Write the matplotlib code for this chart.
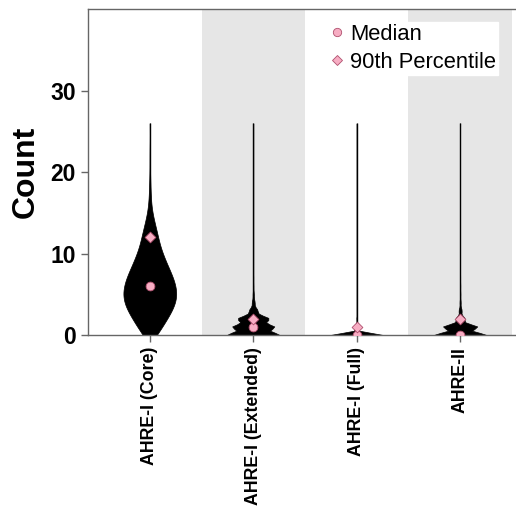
import matplotlib
matplotlib.use("Agg")
import matplotlib.pyplot as plt
from matplotlib.lines import Line2D
import numpy as np

plt.rcParams['font.family'] = ['Liberation Sans', 'DejaVu Sans']

# categories and count frequencies (value -> number of observations)
categories = ["AHRE-I (Core)", "AHRE-I (Extended)", "AHRE-I (Full)", "AHRE-II"]
count_values = list(range(27))
freq_core = [30, 50, 70, 90, 105, 110, 105, 95, 80, 65, 52, 40, 34, 26, 18,
             10, 6, 4, 3, 2, 1, 1, 1, 1, 0, 0, 1]
freq_extended = [380, 300, 225, 60, 20, 8, 3, 2, 1, 0, 0, 0, 0, 0, 0,
                 0, 0, 0, 0, 0, 0, 0, 0, 0, 0, 0, 1]
freq_full = [880, 100, 12, 4, 2, 1, 0, 0, 0, 0, 0, 0, 0, 0, 0,
             0, 0, 0, 0, 0, 0, 0, 0, 0, 0, 0, 1]
freq_ahre2 = [520, 340, 90, 30, 10, 5, 3, 1, 0, 0, 0, 0, 0, 0, 0,
              0, 0, 0, 0, 0, 0, 0, 0, 0, 0, 0, 1]

freqs = [freq_core, freq_extended, freq_full, freq_ahre2]
data = [np.repeat(count_values, f) for f in freqs]

pink = '#f7adc3'
pink_edge = '#b0506e'
band = '#e6e6e6'
spine_col = '#666666'

fig = plt.figure(figsize=(5.16, 5.08), dpi=100)
ax = fig.add_axes([0.170, 0.3406, 0.830, 0.6407])

pos = np.arange(len(categories))
for i in pos:
    if i % 2 == 1:
        ax.axvspan(i - 0.5, i + 0.5, color=band, lw=0, zorder=0)

parts = ax.violinplot(data, positions=pos, widths=0.51, showextrema=False)
for b in parts['bodies']:
    b.set_facecolor('black')
    b.set_edgecolor('black')
    b.set_linewidth(0.5)
    b.set_alpha(1)
    b.set_zorder(2)

for i, d in zip(pos, data):
    ax.vlines(i, d.min(), d.max(), color='black', lw=1, zorder=2)

med = [np.median(d) for d in data]
p90 = [np.percentile(d, 90) for d in data]
ax.scatter(pos, med, marker='o', s=40, facecolor=pink, edgecolor=pink_edge,
           linewidth=0.6, zorder=3)
ax.scatter(pos, p90, marker='D', s=30, facecolor=pink, edgecolor=pink_edge,
           linewidth=0.6, zorder=3)

ax.set_xlim(-0.6, 3.54)
ax.set_ylim(0, 40)
ax.set_yticks([0, 10, 20, 30])
ax.set_xticks(pos)
ax.set_xticklabels(categories, rotation=90, fontsize=12.8, fontweight='bold')
for t in ax.get_yticklabels():
    t.set_fontsize(16.5)
    t.set_fontweight('bold')
ax.set_ylabel("Count", fontsize=23, fontweight='bold', labelpad=7)

for s in ['left', 'bottom', 'top']:
    ax.spines[s].set_color(spine_col)
    ax.spines[s].set_linewidth(1)
ax.spines['right'].set_visible(False)
ax.tick_params(axis='both', colors=spine_col, length=5, width=1, labelcolor='black')

handles = [
    Line2D([], [], marker='o', ls='', markersize=6, markerfacecolor=pink,
           markeredgecolor=pink_edge, markeredgewidth=0.6, label='Median'),
    Line2D([], [], marker='D', ls='', markersize=5.5, markerfacecolor=pink,
           markeredgecolor=pink_edge, markeredgewidth=0.6, label='90th Percentile'),
]
leg = ax.legend(handles=handles, loc='upper right', bbox_to_anchor=(0.958, 0.962),
                fontsize=15.8, frameon=True, fancybox=False, framealpha=1,
                edgecolor='white', handletextpad=0.25, handlelength=0.7,
                borderpad=0.1, labelspacing=0.3, borderaxespad=0)
leg.set_zorder(5)

fig.savefig("out.png", dpi=100)
